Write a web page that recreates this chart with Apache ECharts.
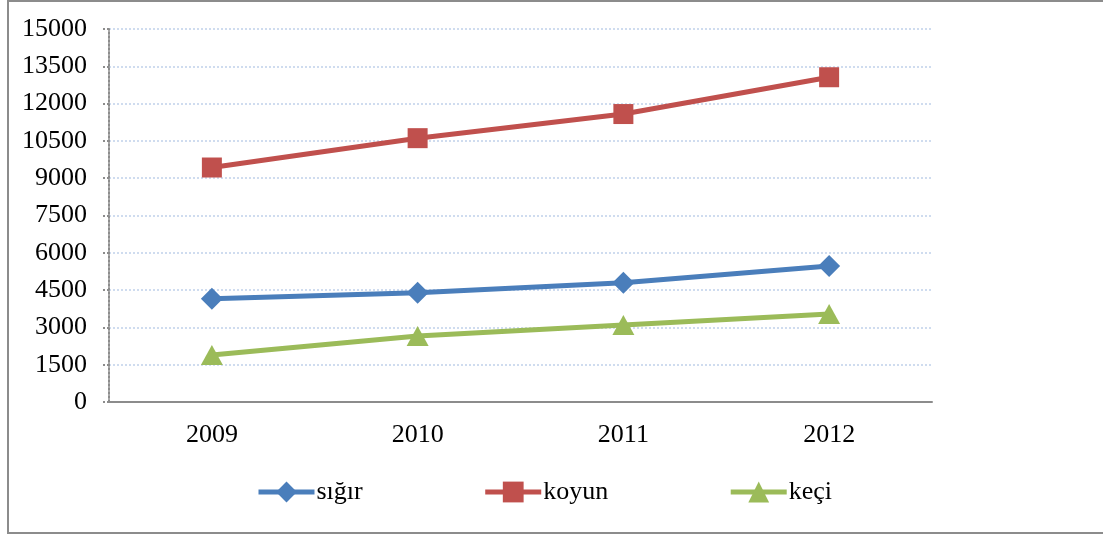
<!DOCTYPE html>
<html lang="tr">
<head>
<meta charset="UTF-8">
<title>Hayvan sayıları</title>
<style>
    * { margin: 0; padding: 0; }
    body { background: #fff; }
    #main { width: 1103px; height: 536px; }
</style>
<script src="https://cdn.jsdelivr.net/npm/echarts@6/dist/echarts.min.js"></script>
</head>
<body>
<div id="main"></div>
<script>
    // data
    var years = ['2009', '2010', '2011', '2012'];
    var sigir = [4150, 4390, 4800, 5470];
    var koyun = [9430, 10610, 11580, 13060];
    var keci = [1890, 2650, 3100, 3540];

    var font = 'Liberation Serif, Times New Roman, serif';
    var myChart = echarts.init(document.getElementById('main'));

    function line(name, data, color, symbol, size) {
        return {
            name: name,
            type: 'line',
            data: data,
            symbol: symbol,
            symbolSize: size,
            lineStyle: { color: color, width: 5 },
            itemStyle: { color: color },
            emphasis: { disabled: true }
        };
    }

    var option = {
        backgroundColor: '#fff',
        animation: false,
        textStyle: { fontFamily: font },
        graphic: [{
            type: 'rect',
            shape: { x: 8, y: 1, width: 1200, height: 532 },
            style: { fill: 'none', stroke: '#8c8c8c', lineWidth: 2 },
            silent: true
        }],
        grid: { left: 109, right: 171, top: 29, bottom: 134 },
        legend: {
            left: 256,
            top: 479,
            padding: 0,
            itemWidth: 56,
            itemHeight: 26,
            itemGap: 120,
            lineStyle: { width: 5 },
            textStyle: { fontFamily: font, fontSize: 26, color: '#000', padding: [0, 0, 0, -3] },
            data: ['sığır', 'koyun', 'keçi']
        },
        xAxis: {
            type: 'category',
            data: years,
            axisLine: { lineStyle: { color: '#8c8c8c', width: 2 } },
            axisTick: { length: 8, lineStyle: { color: '#8c8c8c', width: 2 } },
            axisLabel: { fontFamily: font, fontSize: 26, color: '#000', margin: 20 }
        },
        yAxis: {
            type: 'value',
            min: 0,
            max: 15000,
            interval: 1500,
            axisLine: { show: true, lineStyle: { color: '#8c8c8c', width: 2, type: [2, 2] } },
            axisTick: { show: true, length: 7, lineStyle: { color: '#8c8c8c', width: 2, type: [2, 2] } },
            axisLabel: {
                fontFamily: font, fontSize: 26, color: '#000', margin: 22,
                formatter: function (v) { return String(v); }
            },
            splitLine: { lineStyle: { color: '#cfdcef', width: 2, type: [2, 2] } }
        },
        series: [
            line('sığır', sigir, '#4a7ebb', 'diamond', [22, 22]),
            line('koyun', koyun, '#c0504d', 'rect', [20, 20]),
            line('keçi', keci, '#9bbb59', 'triangle', [22, 20])
        ]
    };

    myChart.setOption(option);
</script>
</body>
</html>
